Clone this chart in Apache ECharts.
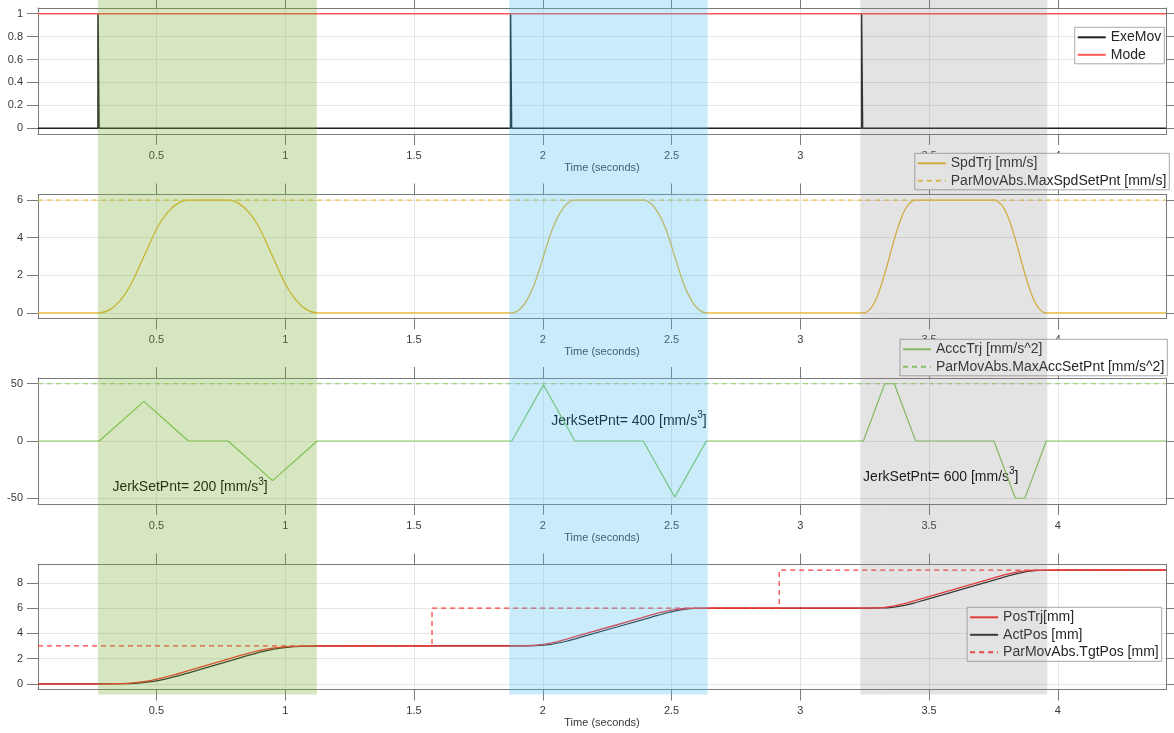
<!DOCTYPE html>
<html>
<head>
<meta charset="utf-8">
<script src="https://cdn.jsdelivr.net/npm/echarts@6/dist/echarts.min.js"></script>
<style>
  html, body { margin: 0; padding: 0; background: #ffffff; }
  #chart { width: 1174px; height: 733px; }
</style>
</head>
<body>
<div id="chart"></div>
<script>
// ---- time axis ----
const timeRange = [0.04, 4.42];
const timeTicks = [0.5, 1, 1.5, 2, 2.5, 3, 3.5, 4];

// ---- panel 1: move command and mode flag ----
const exeMov = [[0.04, 0], [0.273, 0], [0.273, 1], [0.277, 1], [0.277, 0],
  [1.875, 0], [1.875, 1], [1.879, 1], [1.879, 0],
  [3.238, 0], [3.238, 1], [3.242, 1], [3.242, 0], [4.42, 0]];
const mode = [[0.04, 1], [4.42, 1]];

// ---- panel 2: speed trajectory [mm/s] ----
const spdTrj = [[0.04, 0], [0.278, 0], [0.318, 0.16], [0.358, 0.64], [0.398, 1.44], [0.451, 3.0],
  [0.504, 4.56], [0.544, 5.36], [0.584, 5.84], [0.624, 6],
  [0.778, 6], [0.818, 5.84], [0.858, 5.36], [0.898, 4.56], [0.951, 3.0],
  [1.004, 1.44], [1.044, 0.64], [1.084, 0.16], [1.124, 0],
  [1.88, 0], [1.91, 0.18], [1.94, 0.72], [1.97, 1.62], [2.0025, 3.0],
  [2.035, 4.38], [2.065, 5.28], [2.095, 5.82], [2.125, 6],
  [2.39, 6], [2.42, 5.82], [2.45, 5.28], [2.48, 4.38], [2.5125, 3.0],
  [2.545, 1.62], [2.575, 0.72], [2.605, 0.18], [2.635, 0],
  [3.245, 0], [3.275, 0.27], [3.3, 0.91], [3.328, 2.08], [3.365, 3.92],
  [3.393, 5.09], [3.418, 5.73], [3.448, 6],
  [3.752, 6], [3.782, 5.73], [3.807, 5.09], [3.835, 3.92], [3.872, 2.08],
  [3.9, 0.91], [3.925, 0.27], [3.955, 0], [4.42, 0]];
const maxSpdSetPnt = [[0.04, 6], [4.42, 6]];

// ---- panel 3: acceleration trajectory [mm/s^2] ----
const accTrj = [[0.04, 0], [0.278, 0], [0.451, 34.6], [0.624, 0], [0.778, 0], [0.951, -34.6], [1.124, 0],
  [1.88, 0], [2.0025, 49], [2.125, 0], [2.39, 0], [2.5125, -49], [2.635, 0],
  [3.245, 0], [3.328, 50], [3.365, 50], [3.448, 0], [3.752, 0], [3.835, -50], [3.872, -50], [3.955, 0],
  [4.42, 0]];
const maxAccSetPnt = [[0.04, 50], [4.42, 50]];

// jerk set points written into panel 3
const jerkSetPnt = [200, 400, 600];
const jerkLabelAt = [[0.327, -40.7], [2.031, 17.7], [3.242, -31.2]];

// ---- panel 4: positions [mm] ----
const posTrj = [[0.04, 0], [0.278, 0], [0.338, 0.007], [0.398, 0.058], [0.451, 0.173], [0.504, 0.377],
  [0.564, 0.686], [0.624, 1.039], [0.778, 1.961], [0.838, 2.314], [0.898, 2.623], [0.951, 2.827],
  [1.004, 2.942], [1.064, 2.993], [1.124, 3],
  [1.88, 3], [1.94, 3.014], [2.0025, 3.123], [2.065, 3.389], [2.125, 3.735], [2.39, 5.265],
  [2.45, 5.611], [2.5125, 5.877], [2.575, 5.986], [2.635, 6],
  [3.245, 6], [3.285, 6.006], [3.328, 6.058], [3.365, 6.168], [3.408, 6.376], [3.448, 6.61],
  [3.752, 8.39], [3.792, 8.624], [3.835, 8.832], [3.872, 8.942], [3.915, 8.994], [3.955, 9], [4.42, 9]];
const actPos = [[0.04, 0], [0.308, 0], [0.368, 0.007], [0.428, 0.058], [0.481, 0.173], [0.534, 0.377],
  [0.594, 0.686], [0.654, 1.039], [0.808, 1.961], [0.868, 2.314], [0.928, 2.623], [0.981, 2.827],
  [1.034, 2.942], [1.094, 2.993], [1.154, 3],
  [1.91, 3], [1.97, 3.014], [2.0325, 3.123], [2.095, 3.389], [2.155, 3.735], [2.42, 5.265],
  [2.48, 5.611], [2.5425, 5.877], [2.605, 5.986], [2.665, 6],
  [3.275, 6], [3.315, 6.006], [3.358, 6.058], [3.395, 6.168], [3.438, 6.376], [3.478, 6.61],
  [3.782, 8.39], [3.822, 8.624], [3.865, 8.832], [3.902, 8.942], [3.945, 8.994], [3.985, 9], [4.42, 9]];
const tgtPos = [[0.04, 3], [1.57, 6], [2.918, 9], [4.42, 9]];

// ---- per-panel value ranges and ticks ----
const yRanges = [[-0.05, 1.05], [-0.3, 6.3], [-55, 55], [-0.45, 9.45]];
const yTicks = [[0, 0.2, 0.4, 0.6, 0.8, 1], [0, 2, 4, 6], [-50, 0, 50], [0, 2, 4, 6, 8]];

// ---- highlighted move intervals ----
const bandStart = [0.2725, 1.870, 3.233];
const bandEnd = [1.1227, 2.640, 3.959];

// ---- layout / style ----
const FONT = '"Liberation Sans", Arial, Helvetica, sans-serif';
const gridTops = [8, 194.5, 378, 564.5];
const gridHeights = [126, 124, 126, 125];
const bandColors = ['rgba(119,172,48,0.3)', 'rgba(77,190,238,0.3)', 'rgba(128,128,128,0.22)'];
const axisColor = '#7a7a7a';
const gridColor = '#e6e6e6';
const labelColor = '#383838';

const chart = echarts.init(document.getElementById('chart'), null, { renderer: 'canvas' });

const grids = [], xAxes = [], yAxes = [];
for (let g = 0; g < 4; g++) {
  grids.push({ left: 38, right: 8, top: gridTops[g], height: gridHeights[g], containLabel: false });
  const line = { show: true, onZero: false, lineStyle: { color: axisColor, width: 1 } };
  const tick = (vals) => ({ show: true, inside: false, length: 11, customValues: vals, lineStyle: { color: axisColor, width: 1 } });
  xAxes.push({
    gridIndex: g, type: 'value', position: 'bottom', min: timeRange[0], max: timeRange[1],
    axisLine: line, axisTick: tick(timeTicks),
    axisLabel: { customValues: timeTicks, margin: 16, fontSize: 11, color: labelColor, fontFamily: FONT },
    splitLine: { show: true, lineStyle: { color: gridColor, width: 1 } },
    name: 'Time (seconds)', nameLocation: 'middle', nameGap: 28,
    nameTextStyle: { fontSize: 11, color: labelColor, fontFamily: FONT }
  });
  xAxes.push({
    gridIndex: g, type: 'value', position: 'top', min: timeRange[0], max: timeRange[1],
    axisLine: line, axisTick: tick(timeTicks), axisLabel: { show: false }, splitLine: { show: false }
  });
  yAxes.push({
    gridIndex: g, type: 'value', position: 'left', min: yRanges[g][0], max: yRanges[g][1],
    axisLine: line, axisTick: tick(yTicks[g]),
    axisLabel: { customValues: yTicks[g], margin: 15, fontSize: 11, color: labelColor, fontFamily: FONT },
    splitLine: { show: true, lineStyle: { color: gridColor, width: 1 } }
  });
  yAxes.push({
    gridIndex: g, type: 'value', position: 'right', min: yRanges[g][0], max: yRanges[g][1],
    axisLine: line, axisTick: tick(yTicks[g]), axisLabel: { show: false }, splitLine: { show: false }
  });
}

function lineSeries(name, g, data, color, width, extra) {
  return Object.assign({
    name, type: 'line', xAxisIndex: 2 * g, yAxisIndex: 2 * g, data,
    symbol: 'none', showSymbol: false, animation: false, silent: true,
    lineStyle: { color, width, type: 'solid' }, itemStyle: { color }
  }, extra || {});
}
const dashed = (color, width) => ({ color, width, type: [5, 4] });

const series = [
  lineSeries('ExeMov', 0, exeMov, '#1f1f1f', 1.5),
  lineSeries('Mode', 0, mode, '#ff5555', 1.5),
  lineSeries('SpdTrj [mm/s]', 1, spdTrj, '#e9b628', 1.2, { smooth: 0.3 }),
  lineSeries('ParMovAbs.MaxSpdSetPnt [mm/s]', 1, maxSpdSetPnt, '#f0c445', 1.2, { lineStyle: dashed('#f0c445', 1.2) }),
  lineSeries('AcccTrj [mm/s^2]', 2, accTrj, '#86c95a', 1.2),
  lineSeries('ParMovAbs.MaxAccSetPnt [mm/s^2]', 2, maxAccSetPnt, '#8fd160', 1.2, { lineStyle: dashed('#8fd160', 1.2) }),
  lineSeries('ActPos [mm]', 3, actPos, '#262626', 1.2, { smooth: 0.3, z: 2 }),
  lineSeries('PosTrj[mm]', 3, posTrj, '#ff2a2a', 1.3, { smooth: 0.3, z: 3 }),
  lineSeries('ParMovAbs.TgtPos [mm]', 3, tgtPos, '#ff3b3b', 1.2, { step: 'end', lineStyle: dashed('#ff3b3b', 1.2) }),
  {
    name: 'jerkText', type: 'scatter', xAxisIndex: 4, yAxisIndex: 4, silent: true, animation: false,
    symbolSize: 1, itemStyle: { color: 'rgba(0,0,0,0)', opacity: 1 },
    data: jerkLabelAt.map((p, i) => ({ value: p, jerk: jerkSetPnt[i] })),
    label: {
      show: true, position: 'right', distance: 0, opacity: 1, color: '#000000',
      formatter: (p) => '{t|JerkSetPnt= ' + jerkSetPnt[p.dataIndex] + ' [mm/s}{s|3}{t|]}',
      rich: {
        t: { fontSize: 14, fontFamily: FONT, color: '#000000', lineHeight: 20 },
        s: { fontSize: 10, fontFamily: FONT, color: '#000000', lineHeight: 10, verticalAlign: 'top' }
      }
    }
  }
];

function legend(names, right, top) {
  return {
    data: names, orient: 'vertical', right, top, selectedMode: false,
    itemWidth: 28, itemHeight: 14, itemGap: 3.5, padding: [3, 3, 2, 2],
    itemStyle: { opacity: 0 },
    backgroundColor: '#ffffff', borderColor: '#a8a8a8', borderWidth: 1, borderRadius: 0,
    textStyle: { fontSize: 14, color: '#262626', fontFamily: FONT }
  };
}

chart.setOption({
  animation: false,
  backgroundColor: '#ffffff',
  grid: grids, xAxis: xAxes, yAxis: yAxes, series,
  legend: [
    legend(['ExeMov', 'Mode'], 9.7, 27.3),
    legend(['SpdTrj [mm/s]', 'ParMovAbs.MaxSpdSetPnt [mm/s]'], 4.7, 153.3),
    legend(['AcccTrj [mm/s^2]', 'ParMovAbs.MaxAccSetPnt [mm/s^2]'], 6.7, 339.3),
    legend(['PosTrj[mm]', 'ActPos [mm]', 'ParMovAbs.TgtPos [mm]'], 12.3, 607.3)
  ]
});

// translucent move intervals laid over all four panels
function drawBands() {
  const bottom = chart.convertToPixel({ yAxisIndex: 6 }, yRanges[3][0]) + 5;
  const rects = bandStart.map((s, i) => {
    const x0 = chart.convertToPixel({ xAxisIndex: 0 }, s);
    const x1 = chart.convertToPixel({ xAxisIndex: 0 }, bandEnd[i]);
    return {
      type: 'rect', z: 100, silent: true,
      shape: { x: x0, y: 0, width: x1 - x0, height: bottom },
      style: { fill: bandColors[i] }
    };
  });
  chart.setOption({ graphic: rects });
}
drawBands();
</script>
</body>
</html>
